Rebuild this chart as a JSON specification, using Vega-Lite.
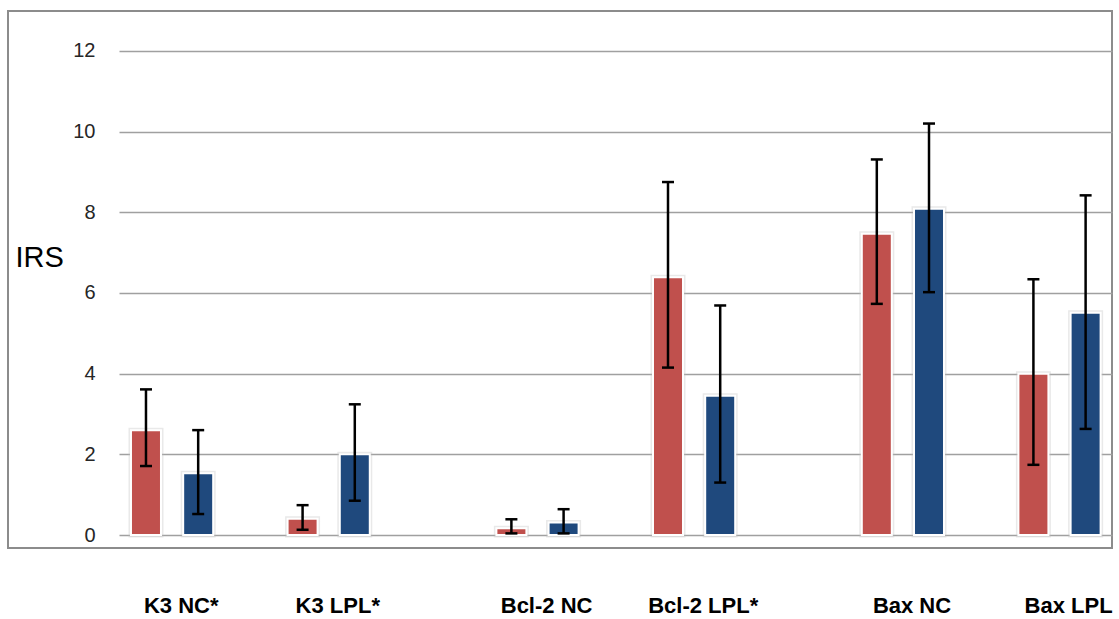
{
  "$schema": "https://vega.github.io/schema/vega-lite/v6.json",
  "width": 1104,
  "height": 537,
  "autosize": {"type": "none"},
  "padding": {"left": 8, "top": 11, "right": 7, "bottom": 71},
  "background": "white",
  "config": {"view": {"stroke": "#8c8c8c", "strokeWidth": 2}, "font": "Liberation Sans"},
  "data": {
    "values": [
      {"marker": "K3 NC*", "series": "1", "bar": "K3 NC* | 1", "irs": 2.6, "lo": 1.71, "hi": 3.61},
      {"marker": "K3 NC*", "series": "2", "bar": "K3 NC* | 2", "irs": 1.53, "lo": 0.52, "hi": 2.6},
      {"marker": "K3 LPL*", "series": "1", "bar": "K3 LPL* | 1", "irs": 0.4, "lo": 0.13, "hi": 0.74},
      {"marker": "K3 LPL*", "series": "2", "bar": "K3 LPL* | 2", "irs": 2.0, "lo": 0.85, "hi": 3.24},
      {"marker": "Bcl-2 NC", "series": "1", "bar": "Bcl-2 NC | 1", "irs": 0.17, "lo": 0.04, "hi": 0.39},
      {"marker": "Bcl-2 NC", "series": "2", "bar": "Bcl-2 NC | 2", "irs": 0.31, "lo": 0.04, "hi": 0.64},
      {"marker": "Bcl-2 LPL*", "series": "1", "bar": "Bcl-2 LPL* | 1", "irs": 6.39, "lo": 4.15, "hi": 8.75},
      {"marker": "Bcl-2 LPL*", "series": "2", "bar": "Bcl-2 LPL* | 2", "irs": 3.45, "lo": 1.3, "hi": 5.69},
      {"marker": "Bax NC", "series": "1", "bar": "Bax NC | 1", "irs": 7.47, "lo": 5.73, "hi": 9.31},
      {"marker": "Bax NC", "series": "2", "bar": "Bax NC | 2", "irs": 8.09, "lo": 6.02, "hi": 10.2},
      {"marker": "Bax LPL", "series": "1", "bar": "Bax LPL | 1", "irs": 4.0, "lo": 1.74, "hi": 6.34},
      {"marker": "Bax LPL", "series": "2", "bar": "Bax LPL | 2", "irs": 5.51, "lo": 2.63, "hi": 8.42}
    ]
  },
  "encoding": {
    "x": {
      "field": "bar",
      "type": "nominal",
      "sort": null,
      "scale": {
        "domain": ["_y", "_z", "K3 NC* | 1", "K3 NC* | 2", "_a", "K3 LPL* | 1", "K3 LPL* | 2", "_b", "_c", "Bcl-2 NC | 1", "Bcl-2 NC | 2", "_d", "Bcl-2 LPL* | 1", "Bcl-2 LPL* | 2", "_e", "_f", "Bax NC | 1", "Bax NC | 2", "_g", "Bax LPL | 1", "Bax LPL | 2"],
        "paddingInner": 0.4253,
        "paddingOuter": 0.287,
        "align": 0.62
      },
      "axis": {
        "title": null,
        "domain": false,
        "ticks": false,
        "labelExpr": "datum.value == 'K3 NC* | 2' ? 'K3 NC*' : datum.value == 'K3 LPL* | 2' ? 'K3 LPL*' : datum.value == 'Bcl-2 NC | 2' ? 'Bcl-2 NC' : datum.value == 'Bcl-2 LPL* | 2' ? 'Bcl-2 LPL*' : datum.value == 'Bax NC | 2' ? 'Bax NC' : datum.value == 'Bax LPL | 2' ? 'Bax LPL' : ''",
        "labelOffset": -17,
        "labelPadding": 47,
        "labelAngle": 0,
        "labelFont": "Liberation Sans",
        "labelFontWeight": "bold",
        "labelFontSize": 22,
        "labelColor": "black",
        "labelOverlap": false,
        "labelBound": false,
        "labelFlush": false
      }
    }
  },
  "layer": [
    {
      "mark": {"type": "bar", "fillOpacity": 0, "stroke": "#bfbfbf", "strokeWidth": 5, "strokeOpacity": 0.35},
      "encoding": {
        "y": {
          "field": "irs",
          "type": "quantitative",
          "scale": {"domain": [-0.322, 12.99], "nice": false, "zero": false},
          "axis": {
            "orient": "left",
            "values": [0, 2, 4, 6, 8, 10, 12],
            "domain": false,
            "ticks": false,
            "tickSize": 0,
            "grid": false,
            "labelPadding": -87,
            "labelFont": "Liberation Sans",
            "labelFontSize": 20,
            "labelColor": "#262626",
            "title": "IRS",
            "titleAngle": 0,
            "titleAlign": "left",
            "titleBaseline": "middle",
            "titleX": 7,
            "titleY": 246,
            "titleFont": "Liberation Sans",
            "titleFontSize": 29,
            "titleFontWeight": "normal",
            "titleColor": "black"
          }
        },
        "y2": {"datum": 0}
      }
    },
    {
      "mark": {"type": "bar", "stroke": "white", "strokeWidth": 2},
      "encoding": {
        "y": {"field": "irs", "type": "quantitative", "scale": {"domain": [-0.322, 12.99], "nice": false, "zero": false}, "axis": null},
        "y2": {"datum": 0},
        "color": {"field": "series", "type": "nominal", "scale": {"domain": ["1", "2"], "range": ["#C0504D", "#1F497D"]}, "legend": null}
      }
    },
    {
      "mark": {"type": "rule", "color": "black", "strokeWidth": 2.5},
      "encoding": {
        "y": {
          "field": "lo",
          "type": "quantitative",
          "scale": {"domain": [-0.322, 12.99], "nice": false, "zero": false},
          "axis": {
            "orient": "right",
            "values": [0, 2, 4, 6, 8, 10, 12],
            "domain": false,
            "labels": false,
            "ticks": true,
            "tickSize": -993,
            "tickColor": "#a0a0a0",
            "tickWidth": 1.5,
            "grid": false,
            "title": null
          }
        },
        "y2": {"field": "hi"}
      }
    },
    {
      "mark": {"type": "tick", "color": "black", "size": 12, "thickness": 2.5, "opacity": 1},
      "encoding": {
        "y": {"field": "lo", "type": "quantitative", "scale": {"domain": [-0.322, 12.99], "nice": false, "zero": false}, "axis": null}
      }
    },
    {
      "mark": {"type": "tick", "color": "black", "size": 12, "thickness": 2.5, "opacity": 1},
      "encoding": {
        "y": {"field": "hi", "type": "quantitative", "scale": {"domain": [-0.322, 12.99], "nice": false, "zero": false}, "axis": null}
      }
    }
  ],
  "resolve": {"axis": {"y": "independent"}}
}
